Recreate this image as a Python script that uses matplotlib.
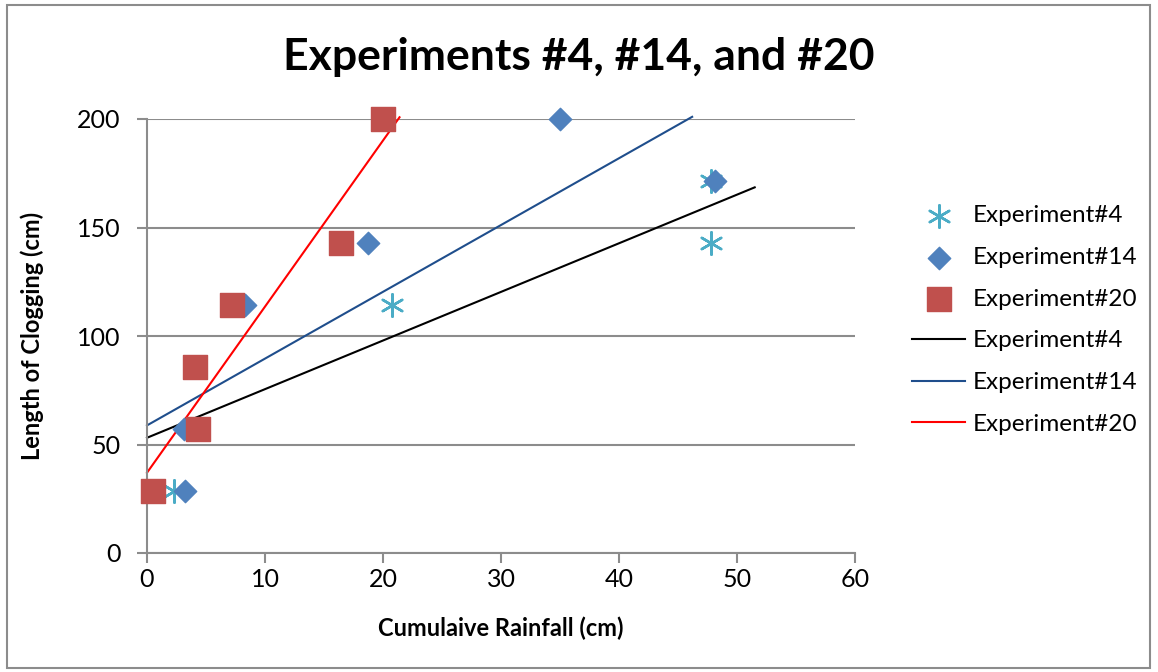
import matplotlib
matplotlib.use("Agg")
import matplotlib.pyplot as plt
from matplotlib.patches import Rectangle

plt.rcParams['font.family'] = ['Lato', 'DejaVu Sans']

# scatter data (cumulative rainfall cm, length of clogging cm)
exp4_x = [2.3, 20.8, 47.8, 47.8]
exp4_y = [28.6, 114.3, 171.4, 142.9]
exp14_x = [3.2, 3.1, 8.3, 18.75, 35.0, 48.1]
exp14_y = [28.6, 57.1, 114.3, 142.9, 200.0, 171.4]
exp20_x = [0.5, 4.3, 4.1, 7.2, 16.4, 20.0]
exp20_y = [28.6, 57.1, 85.7, 114.3, 142.9, 200.0]

# fitted line series (end points)
fit4_x = [0, 51.5]
fit4_y = [53.1, 168.5]
fit14_x = [0, 46.2]
fit14_y = [58.8, 201.0]
fit20_x = [0, 21.4]
fit20_y = [37.0, 200.8]

labels = ["Experiment#4", "Experiment#14", "Experiment#20"]

fig = plt.figure(figsize=(11.58, 6.72), dpi=100)
ax = fig.add_axes([147/1158, 1 - 553/672, (855-147)/1158, (553-119)/672])

ax.scatter(exp4_x, exp4_y, marker=(6, 2, 0), s=260, color="#4BACC6", linewidths=1.8,
           label=labels[0], zorder=3, clip_on=False)
ax.scatter(exp14_x, exp14_y, marker="D", s=130, color="#4F81BD", label=labels[1], zorder=3, clip_on=False)
ax.scatter(exp20_x, exp20_y, marker="s", s=300, color="#C0504D", label=labels[2], zorder=3, clip_on=False)
ax.plot(fit4_x, fit4_y, color="black", lw=1.5, label=labels[0], zorder=2, clip_on=False)
ax.plot(fit14_x, fit14_y, color="#1F4E8C", lw=1.5, label=labels[1], zorder=2, clip_on=False)
ax.plot(fit20_x, fit20_y, color="#FF0000", lw=1.5, label=labels[2], zorder=2, clip_on=False)

ax.set_xlim(0, 60)
ax.set_ylim(0, 200)
ax.set_xticks(range(0, 61, 10))
ax.set_yticks(range(0, 201, 50))
ax.yaxis.grid(True, color="#8C8C8C", lw=1.5)
ax.set_axisbelow(True)
for s in ["top", "right"]:
    ax.spines[s].set_visible(False)
for s in ["left", "bottom"]:
    ax.spines[s].set_color("#8C8C8C")
    ax.spines[s].set_linewidth(1.5)
ax.tick_params(axis="both", colors="#8C8C8C", width=1.5, length=7, labelsize=18, labelcolor="black")
ax.tick_params(axis="y", pad=12)

ax.set_xlabel("Cumulaive Rainfall (cm)", fontsize=17, fontweight="bold", labelpad=19)
ax.set_ylabel("Length of Clogging (cm)", fontsize=17, fontweight="bold", labelpad=24)
fig.text(0.5, 0.915, "Experiments #4, #14, and #20", ha="center", va="center", fontsize=32, fontweight="bold")

ax.legend(loc="center left", bbox_to_anchor=(890/1158, 1 - 320/672), bbox_transform=fig.transFigure,
          frameon=False, fontsize=17.5, labelspacing=0.85, handlelength=2.2, handletextpad=0.3)

fig.patches.append(Rectangle((7/1158, 1 - 668/672), 1143/1158, 663/672, transform=fig.transFigure,
                             fill=False, edgecolor="#8C8C8C", lw=1.5))

fig.savefig("out.png", dpi=100)
